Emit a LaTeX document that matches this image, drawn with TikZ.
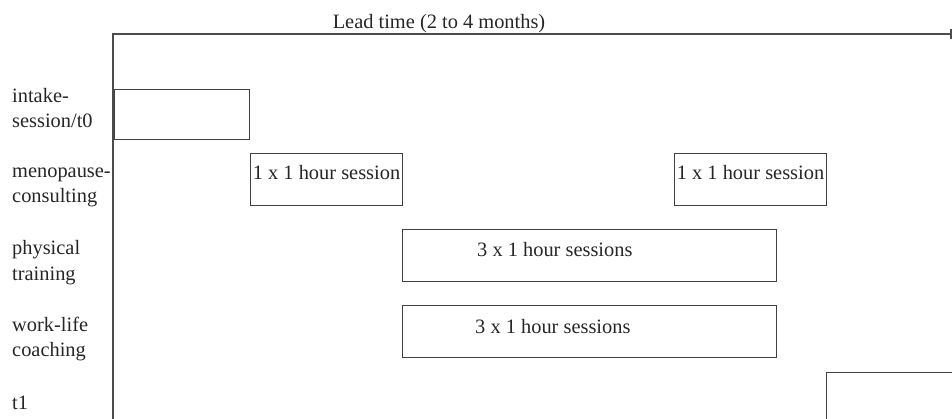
\documentclass[tikz,border=0pt]{standalone}
\usepackage{fontspec}
\setmainfont{Liberation Serif}
\begin{document}
\begin{tikzpicture}[x=1pt,y=-1pt,
  lbl/.style={font=\fontsize{20.4}{25}\selectfont, inner sep=0pt, text=black!85},
  box/.style={draw=black!75, line width=1.1pt, inner sep=0pt},
  axis/.style={draw=black!70, line width=1.4pt}]
\useasboundingbox (0,0) rectangle (952,419);
\begin{scope}
\clip (0,0) rectangle (952,419);
% axes
\coordinate (o) at (113,34);
\coordinate (e) at (951,34);
\coordinate (b) at (113,419);
\coordinate (tt) at (951,29);
\coordinate (tb) at (951,39);
\draw[axis] (b) -- (o) -- (e);
\draw[axis] (tt) -- (tb);
\node[lbl, anchor=base] (lead) at (439,29) {Lead time (2 to 4 months)};
% row labels (anchor = baseline of last line)
\node[lbl, anchor=base west, align=left] (l1) at (12,128) {intake-\\session/t0};
\node[lbl, anchor=base west, align=left] (l2) at (12,203) {menopause-\\consulting};
\node[lbl, anchor=base west, align=left] (l3) at (12,280) {physical\\training};
\node[lbl, anchor=base west, align=left] (l4) at (12,356) {work-life\\coaching};
\node[lbl, anchor=base west] (l5) at (12,409) {t1};
% boxes
\node[box, minimum width=135pt, minimum height=50pt, anchor=north west] (intake) at (114,89) {};
\node[box, minimum width=152pt, minimum height=52pt, anchor=north west] (meno1) at (250,153) {};
\node[box, minimum width=152pt, minimum height=52pt, anchor=north west] (meno2) at (674,153) {};
\node[box, minimum width=374pt, minimum height=52pt, anchor=north west] (phys) at (402,229) {};
\node[box, minimum width=374pt, minimum height=52pt, anchor=north west] (work) at (402,305) {};
\node[box, minimum width=140pt, minimum height=60pt, anchor=north west] (t1) at (826,372) {};
% box texts
\node[lbl, anchor=base] (m1t) at ([yshift=-27pt]meno1.north) {1 x 1 hour session};
\node[lbl, anchor=base] (m2t) at ([yshift=-27pt]meno2.north) {1 x 1 hour session};
\node[lbl, anchor=base west] (pt) at ([xshift=75pt,yshift=-28pt]phys.north west) {3 x 1 hour sessions};
\node[lbl, anchor=base west] (wt) at ([xshift=73pt,yshift=-28pt]work.north west) {3 x 1 hour sessions};
\end{scope}
\end{tikzpicture}
\end{document}
